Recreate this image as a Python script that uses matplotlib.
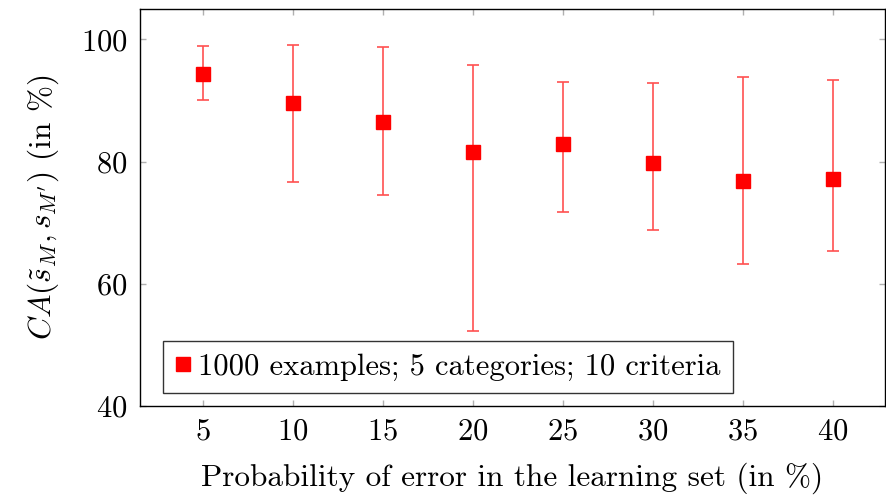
import matplotlib
matplotlib.use('Agg')
from matplotlib import pyplot as plt
from matplotlib.lines import Line2D

# values
error_prob = [5, 10, 15, 20, 25, 30, 35, 40]
ca_mean = [94.4, 89.6, 86.5, 81.6, 82.9, 79.8, 76.9, 77.2]
ca_upper = [98.9, 99.1, 98.8, 95.8, 93.1, 92.8, 93.8, 93.3]
ca_lower = [90.1, 76.6, 74.6, 52.2, 71.8, 68.8, 63.3, 65.4]
legend_label = '1000 examples; 5 categories; 10 criteria'

plt.rcParams['font.family'] = ['cmr10', 'DejaVu Serif']
plt.rcParams['mathtext.fontset'] = 'cm'
plt.rcParams['axes.formatter.use_mathtext'] = True

fig = plt.figure(figsize=(8.86, 4.96), dpi=100)
ax = fig.add_axes([0.158, 0.1815, 0.841, 0.8005])

err_low = [m - lo for m, lo in zip(ca_mean, ca_lower)]
err_high = [hi - m for m, hi in zip(ca_mean, ca_upper)]
ax.errorbar(error_prob, ca_mean, yerr=[err_low, err_high], fmt='s', color='red',
            ecolor='#ff5050', elinewidth=1.2, capsize=4.6, capthick=1.2,
            markersize=10)

ax.set_xlim(1.5, 42.9)
ax.set_ylim(40, 105)
ax.set_xticks(error_prob)
ax.set_yticks([40, 60, 80, 100])
ax.tick_params(direction='in', length=4.5, width=1, color='#b0b0b0',
               top=True, right=True, labelsize=22, pad=9)
for s in ax.spines.values():
    s.set_linewidth(1)

ax.set_xlabel('Probability of error in the learning set (in %)', fontsize=22.5, labelpad=12)
ax.set_ylabel(r"$CA(\tilde{s}_M, s_{M'})$ (in %)", fontsize=22.5, labelpad=14)

handle = Line2D([], [], marker='s', color='red', linestyle='none', markersize=9.5)
leg = ax.legend([handle], [legend_label], loc='lower left', fontsize=22, frameon=True,
                fancybox=False, handlelength=0.5, handletextpad=0.25, borderpad=0.4,
                borderaxespad=0, bbox_to_anchor=(0.031, 0.033))
leg.get_frame().set_edgecolor('black')
leg.get_frame().set_linewidth(1)

fig.savefig('out.png', dpi=100)
